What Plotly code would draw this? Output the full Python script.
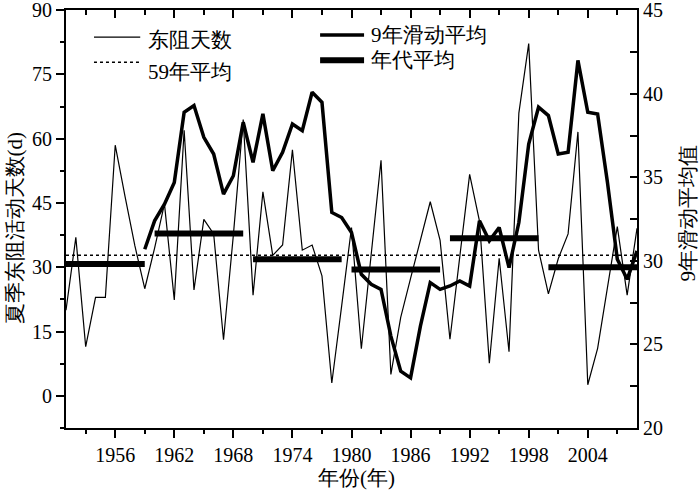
import plotly.graph_objects as go

# yearly values
years = list(range(1951, 2010))
days = [
    20, 37, 11.5, 23, 23, 58.5, 46.5, 35, 25,
    34.5, 44.8, 22.4, 62, 24.7, 41.2, 37.8, 13.1, 37.5, 64.5,
    23.5, 47.6, 32.8, 35.2, 57.4, 34, 35.2, 28, 3, 21,
    39.3, 11, 33, 55, 5, 18.3, 27.4, 36.3, 45.3, 36.3,
    13.2, 32.5, 51.7, 40.8, 7.6, 32.1, 10.3, 66, 82.2, 34,
    23.8, 32, 37.8, 61.6, 2.6, 11.1, 25.5, 39.5, 23.5, 39.1,
]

# 9-year moving average (right axis), 1959-2009
ma_years = list(range(1959, 2010))
ma_values = [
    30.7, 32.4, 33.4, 34.7, 38.9, 39.3, 37.4, 36.4, 34.0, 35.1, 38.3,
    35.9, 38.8, 35.4, 36.5, 38.2, 37.8, 40.1, 39.5, 32.9, 32.6,
    31.7, 29.2, 28.6, 28.3, 25.5, 23.4, 23.0, 26.1, 28.7, 28.3,
    28.5, 28.8, 28.5, 32.4, 31.2, 32.0, 29.6, 32.3, 37.0, 39.2,
    38.7, 36.4, 36.5, 42.0, 38.9, 38.8, 34.7, 30.1, 28.9, 30.6,
]

# decadal means
decade_start = [1951, 1960, 1970, 1980, 1990, 2000]
decade_end = [1959, 1969, 1979, 1989, 1999, 2009]
decade_mean = [30.8, 37.9, 31.9, 29.5, 36.8, 30.0]

mean_59 = 32.8

num_font = "Liberation Serif"

fig = go.Figure()

fig.add_trace(go.Scatter(
    x=years, y=days, mode="lines",
    line=dict(color="black", width=1.2),
    showlegend=False,
))

fig.add_trace(go.Scatter(
    x=ma_years, y=ma_values, mode="lines", yaxis="y2",
    line=dict(color="black", width=3.5),
    showlegend=False,
))

dx, dy = [], []
for s, e, m in zip(decade_start, decade_end, decade_mean):
    dx += [s, e, None]
    dy += [m, m, None]
fig.add_trace(go.Scatter(
    x=dx, y=dy, mode="lines",
    line=dict(color="black", width=6),
    showlegend=False,
))

fig.add_trace(go.Scatter(
    x=[years[0], years[-1]], y=[mean_59, mean_59], mode="lines", xaxis="x2",
    line=dict(color="black", width=1.5, dash="dot"),
    showlegend=False,
))

# hand-made legend
legend_items = [
    ("东阻天数", 0.049, 0.130, 0.935, 0.928, dict(width=1.2), 0.140),
    ("59年平均", 0.049, 0.130, 0.875, 0.852, dict(width=1.5, dash="dot"), 0.140),
    ("9年滑动平均", 0.445, 0.522, 0.940, 0.940, dict(width=3.5), 0.530),
    ("年代平均", 0.445, 0.522, 0.880, 0.880, dict(width=6), 0.530),
]
for text, x0, x1, ly, ty, ln, tx in legend_items:
    fig.add_shape(type="line", xref="paper", yref="paper",
                  x0=x0, x1=x1, y0=ly, y1=ly,
                  line=dict(color="black", **ln))
    fig.add_annotation(xref="paper", yref="paper", x=tx, y=ty,
                       text=text, showarrow=False, xanchor="left", yanchor="middle",
                       font=dict(family=num_font, size=21, color="black"))

# axis titles placed by hand
title_font = dict(family=num_font, size=21, color="black")
fig.add_annotation(xref="paper", yref="paper", x=0.508, y=-0.120,
                   text="年份(年)", showarrow=False,
                   xanchor="center", yanchor="middle", font=title_font)
fig.add_annotation(xref="paper", yref="paper", x=-0.089, y=0.478,
                   text="夏季东阻活动天数(d)", showarrow=False, textangle=-90,
                   xanchor="center", yanchor="middle", font=title_font)
fig.add_annotation(xref="paper", yref="paper", x=1.089, y=0.515,
                   text="9年滑动平均值", showarrow=False, textangle=-90,
                   xanchor="center", yanchor="middle", font=title_font)

axis_common = dict(
    showline=True, linecolor="black", linewidth=2,
    showgrid=False, zeroline=False,
    tickfont=dict(family=num_font, size=20, color="black"),
    tickcolor="black", tickwidth=1.5,
    ticklabeloverflow="allow", automargin=False,
)

fig.update_layout(
    width=700, height=490,
    margin=dict(l=66, r=63, t=10, b=62, autoexpand=False),
    plot_bgcolor="white", paper_bgcolor="white",
    showlegend=False,
    xaxis=dict(
        range=[1951, 2009], tick0=1956, dtick=6,
        ticks="outside", ticklen=8, ticklabelstandoff=0,
        minor=dict(dtick=3, tick0=1953, ticks="outside", ticklen=4,
                   tickcolor="black", tickwidth=1.5),
        **axis_common,
    ),
    xaxis2=dict(
        range=[1951, 2009], overlaying="x", side="top", tick0=1956, dtick=6,
        ticks="inside", ticklen=8, showticklabels=False,
        minor=dict(dtick=3, tick0=1953, ticks="inside", ticklen=5,
                   tickcolor="black", tickwidth=1.5),
        **axis_common,
    ),
    yaxis=dict(
        range=[-7.5, 90.05], tick0=0, dtick=15,
        ticks="outside", ticklen=8,
        minor=dict(dtick=7.5, tick0=0, ticks="outside", ticklen=4,
                   tickcolor="black", tickwidth=1.5),
        **axis_common,
    ),
    yaxis2=dict(
        range=[20, 45.02], overlaying="y", side="right", tick0=20, dtick=5,
        ticks="inside", ticklen=7,
        minor=dict(dtick=2.5, tick0=20, ticks="inside", ticklen=7,
                   tickcolor="black", tickwidth=1.5),
        **axis_common,
    ),
)

# the page body has a default 8px margin; drop it so the figure sits at (0, 0)
fig.write_html("out.html", config={"displayModeBar": False},
               post_script="document.body.style.margin = '0';")
